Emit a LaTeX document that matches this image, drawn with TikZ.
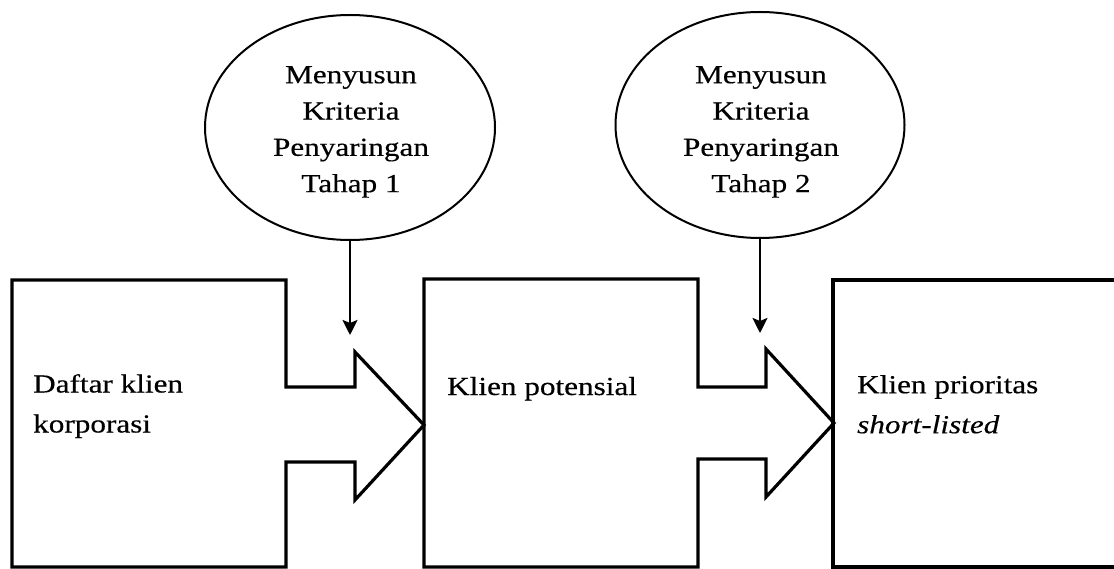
\documentclass[tikz,border=0pt]{standalone}
\usepackage{fontspec}
\setmainfont{Liberation Serif}[FakeStretch=1.2,FakeBold=0.4]
\usetikzlibrary{arrows.meta,shapes.geometric}

\begin{document}
\begin{tikzpicture}[x=1pt,y=-1pt,
  stage/.style={draw=black,line width=3.2pt,line join=miter},
  criteria/.style={draw=black,line width=2pt,ellipse,inner sep=0pt},
  crittext/.style={align=center,inner sep=0pt,anchor=north,
    font=\fontsize{26}{36.3}\selectfont},
  boxtext/.style={align=left,inner sep=0pt,anchor=north west,
    font=\fontsize{26}{40}\selectfont},
  feed/.style={line width=2.4pt,-{Stealth[length=15pt,width=15pt,inset=3pt]}}]

\useasboundingbox (0,0) rectangle (1114,569);
\fill[white] (0,0) rectangle (1114,569);

% criteria ellipses
\node[criteria,minimum width=290pt,minimum height=225pt] (e1) at (350,127.5) {};
\node[criteria,minimum width=289pt,minimum height=226pt] (e2) at (760,125) {};
\node[crittext] (c1) at (351,66) {Menyusun\\Kriteria\\Penyaringan\\Tahap 1};
\node[crittext] (c2) at (761,66) {Menyusun\\Kriteria\\Penyaringan\\Tahap 2};

% stage boxes with their arrow-shaped outlets
\draw[stage] (12,280) -- (286,280) -- (286,387) -- (355,387) -- (355,352)
  -- (424,425) -- (355,500) -- (355,462) -- (286,462) -- (286,567)
  -- (12,567) -- cycle;
\draw[stage] (424,279) -- (698,279) -- (698,387) -- (766,387) -- (766,349)
  -- (834,423) -- (766,497) -- (766,459) -- (698,459) -- (698,567)
  -- (424,567) -- cycle;
\draw[stage] (1116,280) -- (833,280) -- (833,567) -- (1116,567);

\node[boxtext] (b1) at (33,374) {Daftar klien\\korporasi};
\node[boxtext,anchor=base west] (b2) at (447,395) {Klien potensial};
\node[boxtext] (b3) at (857,375) {Klien prioritas\\\textit{short-listed}};

% criteria feeding into the filters
\coordinate (t1) at (350,335);
\coordinate (t2) at (760,333);
\draw[feed] (e1.south) -- (t1);
\draw[feed] (e2.south) -- (t2);
\end{tikzpicture}
\end{document}
